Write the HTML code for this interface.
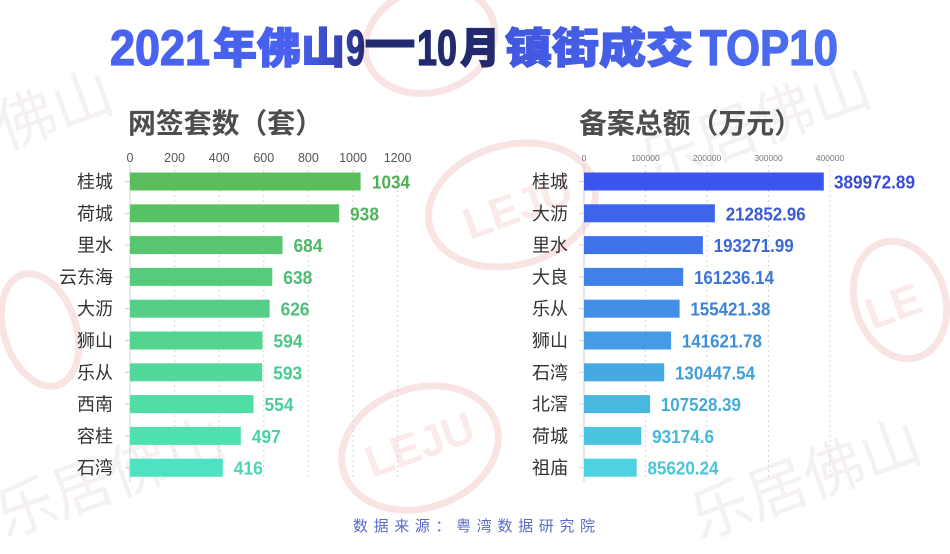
<!DOCTYPE html>
<html><head><meta charset="utf-8">
<style>
html,body{margin:0;padding:0;background:#fff;width:950px;height:554px;overflow:hidden;}
svg{display:block;overflow:hidden;}
</style></head>
<body>
<svg width="950" height="554" viewBox="0 0 950 554" xmlns="http://www.w3.org/2000/svg">
<defs>
<linearGradient id="tg" gradientUnits="userSpaceOnUse" x1="110" y1="0" x2="840" y2="0">
<stop offset="0" stop-color="#4a62f0"/>
<stop offset="0.26" stop-color="#4760ee"/>
<stop offset="0.32" stop-color="#3441b0"/>
<stop offset="0.35" stop-color="#222a70"/>
<stop offset="0.53" stop-color="#222a6c"/>
<stop offset="0.545" stop-color="#4158e0"/>
<stop offset="1" stop-color="#4d6ff4"/>
</linearGradient>
</defs>
<rect width="950" height="554" fill="#fff"/>

<!-- watermarks -->
<g fill="none" stroke="#f9e4e4" stroke-width="7">
<ellipse cx="430" cy="40" rx="66" ry="52" transform="rotate(-18 430 40)"/>
<ellipse cx="512" cy="205" rx="85" ry="60" transform="rotate(-15 512 205)"/>
<ellipse cx="420" cy="448" rx="80" ry="60" transform="rotate(-18 420 448)"/>
<ellipse cx="900" cy="300" rx="45" ry="60" transform="rotate(-18 900 300)"/>
<ellipse cx="40" cy="330" rx="36" ry="58" transform="rotate(-18 40 330)"/>
</g>
<g font-family="Liberation Sans, sans-serif" font-weight="bold" font-size="44" fill="#fbeaea">
<text x="470" y="240" transform="rotate(-20 470 240)">LEJU</text>
<text x="372" y="478" transform="rotate(-20 372 478)">LEJU</text>
<text x="872" y="330" transform="rotate(-20 872 330)">LE</text>
</g>
<g font-family="Liberation Sans, 'Noto Sans CJK SC', sans-serif" font-size="60" fill="#f5f1f1">
<text x="5" y="150" transform="rotate(-20 5 150)">佛山</text>
<text x="650" y="185" transform="rotate(-20 650 185)">乐居佛山</text>
<text x="5" y="538" transform="rotate(-20 5 538)">乐居佛山</text>
<text x="700" y="540" transform="rotate(-20 700 540)">乐居佛山</text>
</g>

<!-- title -->
<g fill="url(#tg)" stroke="url(#tg)" stroke-width="1.3">
<text x="110" y="65" font-family="Liberation Sans, sans-serif" font-weight="bold" font-size="50" textLength="100" lengthAdjust="spacingAndGlyphs">2021</text>
<text x="213" y="63" font-family="'Noto Sans CJK SC', sans-serif" font-weight="900" font-size="42" textLength="132" lengthAdjust="spacingAndGlyphs">年佛山</text>
<text x="346" y="65" font-family="Liberation Sans, sans-serif" font-weight="bold" font-size="50" textLength="19" lengthAdjust="spacingAndGlyphs">9</text>
<text x="367" y="57" font-family="Liberation Sans, sans-serif" font-weight="bold" font-size="50" stroke="#222a70" stroke-width="3" textLength="46" lengthAdjust="spacingAndGlyphs">—</text>
<text x="417" y="65" font-family="Liberation Sans, sans-serif" font-weight="bold" font-size="50" textLength="40" lengthAdjust="spacingAndGlyphs">10</text>
<text x="460" y="63" font-family="'Noto Sans CJK SC', sans-serif" font-weight="900" font-size="42" textLength="40" lengthAdjust="spacingAndGlyphs">月</text>
<text x="505" y="63" font-family="'Noto Sans CJK SC', sans-serif" font-weight="900" font-size="42" textLength="188" lengthAdjust="spacingAndGlyphs">镇街成交</text>
<text x="700" y="65" font-family="Liberation Sans, sans-serif" font-weight="bold" font-size="50" textLength="138" lengthAdjust="spacingAndGlyphs">TOP10</text>
</g>

<!-- subtitles -->
<g font-family="Liberation Sans, 'Noto Sans CJK SC', sans-serif" font-weight="bold" font-size="28" fill="#4d4d4d">
<text x="128" y="133" textLength="195" lengthAdjust="spacingAndGlyphs">网签套数（套）</text>
<text x="579" y="133" textLength="223" lengthAdjust="spacingAndGlyphs">备案总额（万元）</text>
</g>

<!-- left chart -->
<g stroke="#d6d6d6" stroke-width="1" stroke-dasharray="2,3">
<line x1="174.6" y1="165" x2="174.6" y2="480"/>
<line x1="219.2" y1="165" x2="219.2" y2="480"/>
<line x1="263.8" y1="165" x2="263.8" y2="480"/>
<line x1="308.4" y1="165" x2="308.4" y2="480"/>
<line x1="353" y1="165" x2="353" y2="480"/>
<line x1="397.6" y1="165" x2="397.6" y2="480"/>
</g>
<line x1="130" y1="165" x2="130" y2="482" stroke="#cfcfcf" stroke-width="1"/>
<g font-family="Liberation Sans, sans-serif" font-size="12.5" fill="#555" text-anchor="middle">
<text x="130" y="162">0</text>
<text x="174.6" y="162">200</text>
<text x="219.2" y="162">400</text>
<text x="263.8" y="162">600</text>
<text x="308.4" y="162">800</text>
<text x="353" y="162">1000</text>
<text x="397.6" y="162">1200</text>
</g>
<g stroke="#cfcfcf" stroke-width="1">
<line x1="125" y1="181.5" x2="130" y2="181.5"/>
<line x1="125" y1="213.3" x2="130" y2="213.3"/>
<line x1="125" y1="245.1" x2="130" y2="245.1"/>
<line x1="125" y1="276.9" x2="130" y2="276.9"/>
<line x1="125" y1="308.7" x2="130" y2="308.7"/>
<line x1="125" y1="340.5" x2="130" y2="340.5"/>
<line x1="125" y1="372.3" x2="130" y2="372.3"/>
<line x1="125" y1="404.1" x2="130" y2="404.1"/>
<line x1="125" y1="435.9" x2="130" y2="435.9"/>
<line x1="125" y1="467.7" x2="130" y2="467.7"/>
</g>
<g>
<rect x="130" y="172.5" width="230.6" height="18" fill="#5cbd5d"/>
<rect x="130" y="204.3" width="209.2" height="18" fill="#5ac266"/>
<rect x="130" y="236.1" width="152.5" height="18" fill="#58c670"/>
<rect x="130" y="267.9" width="142.3" height="18" fill="#57cb7b"/>
<rect x="130" y="299.7" width="139.6" height="18" fill="#55cf85"/>
<rect x="130" y="331.5" width="132.5" height="18" fill="#54d48f"/>
<rect x="130" y="363.3" width="132.2" height="18" fill="#52d89a"/>
<rect x="130" y="395.1" width="123.5" height="18" fill="#50dda4"/>
<rect x="130" y="426.9" width="110.8" height="18" fill="#4fe0b0"/>
<rect x="130" y="458.7" width="92.8" height="18" fill="#4de2c2"/>
</g>
<g font-family="Liberation Sans, 'Noto Sans CJK SC', sans-serif" font-size="18" fill="#333" text-anchor="end">
<text x="113" y="188">桂城</text>
<text x="113" y="219.8">荷城</text>
<text x="113" y="251.6">里水</text>
<text x="113" y="283.4">云东海</text>
<text x="113" y="315.2">大沥</text>
<text x="113" y="347">狮山</text>
<text x="113" y="378.8">乐从</text>
<text x="113" y="410.6">西南</text>
<text x="113" y="442.4">容桂</text>
<text x="113" y="474.2">石湾</text>
</g>
<g font-family="Liberation Sans, sans-serif" font-weight="bold" font-size="18">
<text x="372" y="188.5" fill="#4fb052" textLength="38" lengthAdjust="spacingAndGlyphs">1034</text>
<text x="350" y="220.3" fill="#4fb45c" textLength="29" lengthAdjust="spacingAndGlyphs">938</text>
<text x="293.5" y="252.1" fill="#4eb866" textLength="29" lengthAdjust="spacingAndGlyphs">684</text>
<text x="283.3" y="283.9" fill="#4dbd70" textLength="29" lengthAdjust="spacingAndGlyphs">638</text>
<text x="280.6" y="315.7" fill="#4cc17a" textLength="29" lengthAdjust="spacingAndGlyphs">626</text>
<text x="273.5" y="347.5" fill="#4bc684" textLength="29" lengthAdjust="spacingAndGlyphs">594</text>
<text x="273.2" y="379.3" fill="#4aca8e" textLength="29" lengthAdjust="spacingAndGlyphs">593</text>
<text x="264.5" y="411.1" fill="#49cf99" textLength="29" lengthAdjust="spacingAndGlyphs">554</text>
<text x="251.8" y="442.9" fill="#48d3a6" textLength="29" lengthAdjust="spacingAndGlyphs">497</text>
<text x="233.8" y="474.7" fill="#47d6b6" textLength="29" lengthAdjust="spacingAndGlyphs">416</text>
</g>

<!-- right chart -->
<g stroke="#d6d6d6" stroke-width="1" stroke-dasharray="2,3">
<line x1="645.5" y1="165" x2="645.5" y2="480"/>
<line x1="707" y1="165" x2="707" y2="480"/>
<line x1="768.5" y1="165" x2="768.5" y2="480"/>
<line x1="830" y1="165" x2="830" y2="480"/>
</g>
<line x1="584" y1="165" x2="584" y2="482" stroke="#cfcfcf" stroke-width="1"/>
<g font-family="Liberation Sans, sans-serif" font-size="8.5" fill="#777" text-anchor="middle">
<text x="584" y="161">0</text>
<text x="645.5" y="161">100000</text>
<text x="707" y="161">200000</text>
<text x="768.5" y="161">300000</text>
<text x="830" y="161">400000</text>
</g>
<g stroke="#cfcfcf" stroke-width="1">
<line x1="579" y1="181.5" x2="584" y2="181.5"/>
<line x1="579" y1="213.3" x2="584" y2="213.3"/>
<line x1="579" y1="245.1" x2="584" y2="245.1"/>
<line x1="579" y1="276.9" x2="584" y2="276.9"/>
<line x1="579" y1="308.7" x2="584" y2="308.7"/>
<line x1="579" y1="340.5" x2="584" y2="340.5"/>
<line x1="579" y1="372.3" x2="584" y2="372.3"/>
<line x1="579" y1="404.1" x2="584" y2="404.1"/>
<line x1="579" y1="435.9" x2="584" y2="435.9"/>
<line x1="579" y1="467.7" x2="584" y2="467.7"/>
</g>
<g>
<rect x="584" y="172.5" width="239.8" height="18" fill="#3d55ef"/>
<rect x="584" y="204.3" width="130.9" height="18" fill="#3f64ec"/>
<rect x="584" y="236.1" width="118.9" height="18" fill="#4072ea"/>
<rect x="584" y="267.9" width="99.2" height="18" fill="#4180e8"/>
<rect x="584" y="299.7" width="95.6" height="18" fill="#438ee6"/>
<rect x="584" y="331.5" width="87.1" height="18" fill="#459ce4"/>
<rect x="584" y="363.3" width="80.2" height="18" fill="#46aae2"/>
<rect x="584" y="395.1" width="66.1" height="18" fill="#48b8e1"/>
<rect x="584" y="426.9" width="57.3" height="18" fill="#4ac5e0"/>
<rect x="584" y="458.7" width="52.7" height="18" fill="#4dd2e0"/>
</g>
<g font-family="Liberation Sans, 'Noto Sans CJK SC', sans-serif" font-size="18" fill="#333" text-anchor="end">
<text x="568" y="188">桂城</text>
<text x="568" y="219.8">大沥</text>
<text x="568" y="251.6">里水</text>
<text x="568" y="283.4">大良</text>
<text x="568" y="315.2">乐从</text>
<text x="568" y="347">狮山</text>
<text x="568" y="378.8">石湾</text>
<text x="568" y="410.6">北滘</text>
<text x="568" y="442.4">荷城</text>
<text x="568" y="474.2">祖庙</text>
</g>
<g font-family="Liberation Sans, sans-serif" font-weight="bold" font-size="18">
<text x="834" y="188.5" fill="#3a4dd2" textLength="81" lengthAdjust="spacingAndGlyphs">389972.89</text>
<text x="725.7" y="220.3" fill="#3a5bd6" textLength="80" lengthAdjust="spacingAndGlyphs">212852.96</text>
<text x="713.7" y="252.1" fill="#3b68d8" textLength="80" lengthAdjust="spacingAndGlyphs">193271.99</text>
<text x="694" y="283.9" fill="#3c75d8" textLength="80" lengthAdjust="spacingAndGlyphs">161236.14</text>
<text x="690.4" y="315.7" fill="#3e82d8" textLength="80" lengthAdjust="spacingAndGlyphs">155421.38</text>
<text x="681.9" y="347.5" fill="#4090d8" textLength="80" lengthAdjust="spacingAndGlyphs">141621.78</text>
<text x="675" y="379.3" fill="#419ed8" textLength="80" lengthAdjust="spacingAndGlyphs">130447.54</text>
<text x="660.9" y="411.1" fill="#43acd8" textLength="80" lengthAdjust="spacingAndGlyphs">107528.39</text>
<text x="652.1" y="442.9" fill="#45bad8" textLength="62" lengthAdjust="spacingAndGlyphs">93174.6</text>
<text x="647.5" y="474.7" fill="#48c6d8" textLength="71" lengthAdjust="spacingAndGlyphs">85620.24</text>
</g>

<!-- footer -->
<text x="353" y="531" font-family="Liberation Sans, 'Noto Sans CJK SC', sans-serif" font-size="15" fill="#5a6bc8" textLength="242" lengthAdjust="spacing">数据来源：粤湾数据研究院</text>
</svg>
</body></html>
